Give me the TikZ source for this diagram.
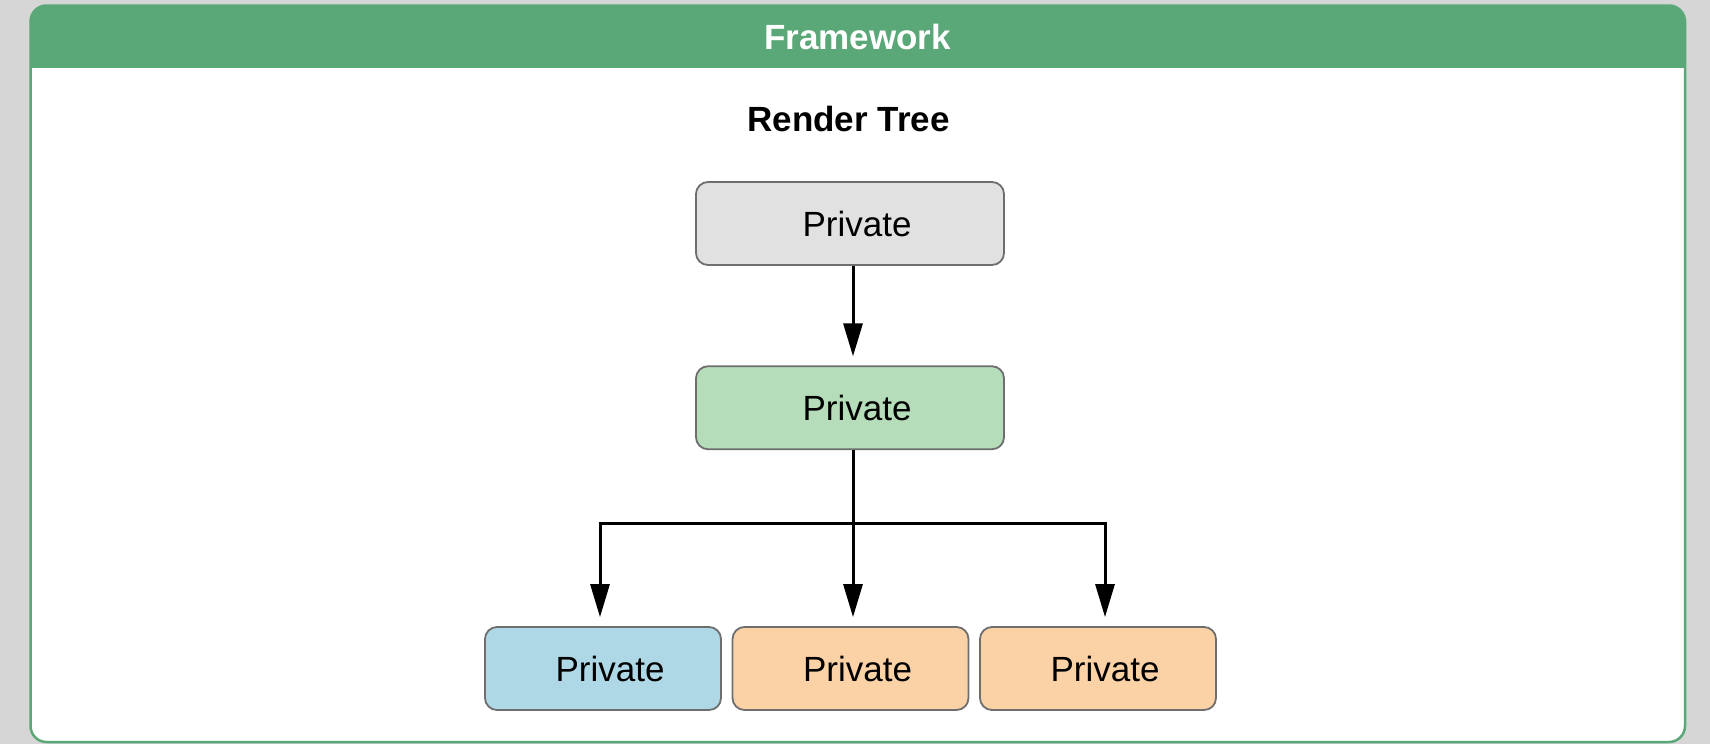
\documentclass[tikz,border=0pt]{standalone}
\usepackage{fontspec}
\setmainfont{Liberation Sans}
\usetikzlibrary{arrows.meta}
\definecolor{bggray}{HTML}{D6D6D6}
\definecolor{framegreen}{HTML}{5AA777}
\definecolor{topgray}{HTML}{E0E1E0}
\definecolor{midgreen}{HTML}{B5DDBA}
\definecolor{leafblue}{HTML}{AED8E6}
\definecolor{leaforange}{HTML}{FBD1A6}
\definecolor{boxborder}{HTML}{6E6E6E}
\newcommand{\boxtext}{\hspace*{14pt}Private}
\tikzset{
  treebox/.style={draw=boxborder, line width=1.8pt, rounded corners=12pt,
    minimum height=83pt, inner sep=0pt, font=\fontsize{35}{42}\selectfont},
  widebox/.style={treebox, minimum width=308pt},
  leafbox/.style={treebox, minimum width=236pt},
  conn/.style={draw=black, line width=3pt, shorten >=9pt,
    -{Triangle[length=33pt,width=19pt]}},
  titletext/.style={font=\fontsize{35}{42}\selectfont\bfseries}
}
\begin{document}
\begin{tikzpicture}[x=1pt,y=-1pt]
\fill[bggray] (0,0) rectangle (1710,744);
\useasboundingbox (0,0) rectangle (1710,744);
% frame
\fill[white, rounded corners=16pt] (30.5,5.5) rectangle (1685,742);
\begin{scope}
  \clip[rounded corners=16pt] (30.5,5.5) rectangle (1685,742);
  \fill[framegreen] (30.5,5.5) rectangle (1685,67.6);
\end{scope}
\draw[framegreen, line width=2.5pt, rounded corners=16pt] (30.5,5.5) rectangle (1685,742);
\node[titletext, text=white] (hdr) at (857.5,37) {Framework};
\node[titletext, text=black] (rt) at (848.5,119) {Render Tree};
% nodes
\node[widebox, fill=topgray] (top) at (850,223.5) {\boxtext};
\node[widebox, fill=midgreen] (mid) at (850,407.75) {\boxtext};
\node[leafbox, fill=leafblue] (b1) at (603,668.5) {\boxtext};
\node[leafbox, fill=leaforange] (b2) at (850.5,668.5) {\boxtext};
\node[leafbox, fill=leaforange] (b3) at (1098,668.5) {\boxtext};
% connectors
\coordinate (j) at (853,523.5);
\draw[conn] ([xshift=3pt]top.south) -- ([xshift=3pt]mid.north);
\draw[line width=3pt] ([xshift=3pt]mid.south) -- (j);
\draw[conn] (j) -- ([xshift=2.5pt]b2.north);
\draw[conn] (j) -| ([xshift=-3pt]b1.north);
\draw[conn] (j) -| ([xshift=7pt]b3.north);
\end{tikzpicture}
\end{document}
